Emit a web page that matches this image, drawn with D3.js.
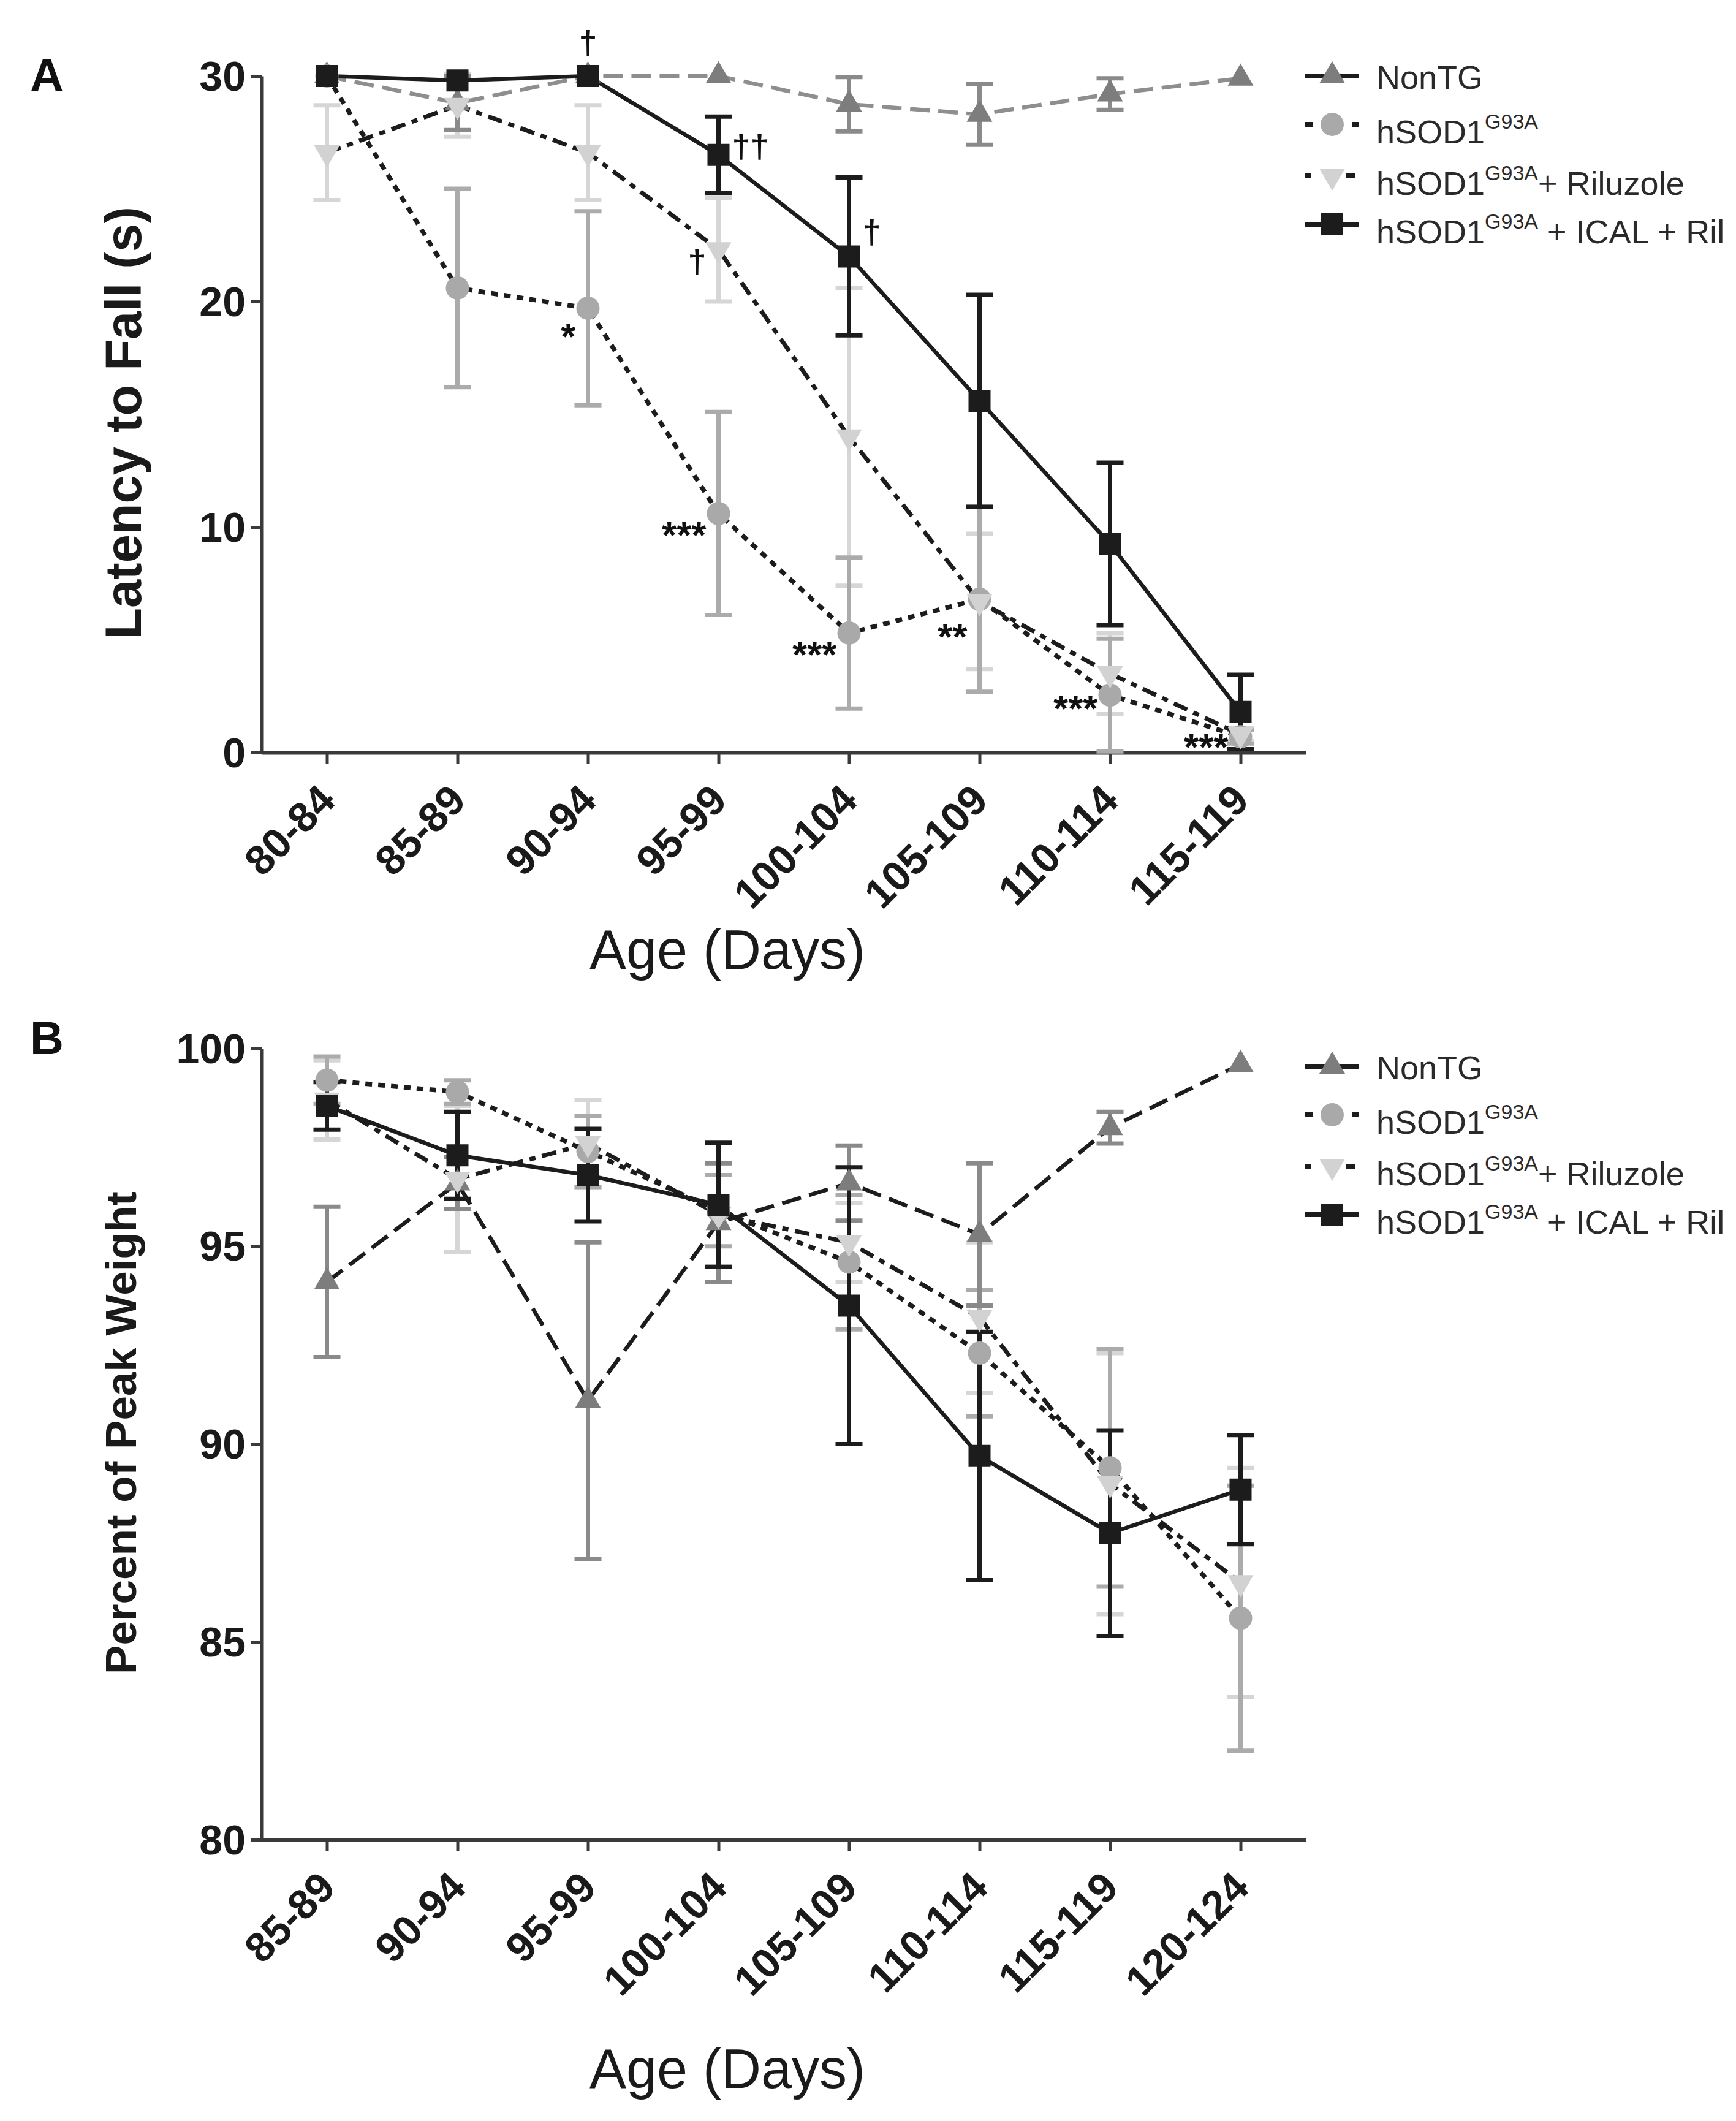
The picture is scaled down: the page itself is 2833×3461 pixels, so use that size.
<!DOCTYPE html>
<html><head><meta charset="utf-8">
<script src="https://cdn.jsdelivr.net/npm/d3@7"></script>
<style>body{margin:0;background:#fff}svg{display:block}</style>
</head><body>
<script>
// ---------- DATA ----------
const catsA = ["80-84","85-89","90-94","95-99","100-104","105-109","110-114","115-119"];
const latencyNonTG    = [30, 28.8, 30, 30, 28.75, 28.3, 29.2, 29.9];
const latencyNonTGSem = [0, 1.2, 0, 0, 1.2, 1.35, 0.7, 0];
const latencySOD      = [30, 20.6, 19.7, 10.6, 5.3, 6.8, 2.55, 0.7];
const latencySODSem   = [0, 4.4, 4.3, 4.5, 3.35, 4.1, 2.5, 0.3];
const latencyRil      = [26.6, 28.7, 26.6, 22.3, 14.0, 6.7, 3.5, 0.8];
const latencyRilSem   = [2.1, 1.4, 2.1, 2.3, 6.6, 3.0, 1.8, 0.3];
const latencyIcal     = [30, 29.8, 30, 26.5, 22.0, 15.6, 9.25, 1.8];
const latencyIcalSem  = [0, 0, 0, 1.7, 3.5, 4.7, 3.6, 1.65];
const ticksA = [0, 10, 20, 30];

const catsB = ["85-89","90-94","95-99","100-104","105-109","110-114","115-119","120-124"];
const weightNonTG    = [94.1, 96.6, 91.1, 95.6, 96.6, 95.3, 98.0, 99.6];
const weightNonTGSem = [1.9, 0.65, 4.0, 1.5, 0.95, 1.8, 0.4, 0];
const weightSOD      = [99.2, 98.9, 97.4, 95.9, 94.6, 92.3, 89.4, 85.6];
const weightSODSem   = [0.6, 0.3, 0.9, 0.9, 1.7, 1.6, 3.0, 3.35];
const weightRil      = [98.7, 96.7, 97.6, 95.8, 95.1, 93.2, 89.0, 86.5];
const weightRilSem   = [1.0, 1.85, 1.1, 1.3, 1.0, 1.9, 3.3, 2.9];
const weightIcal     = [98.55, 97.3, 96.8, 96.05, 93.5, 89.7, 87.75, 88.85];
const weightIcalSem  = [0.6, 1.1, 1.17, 1.57, 3.5, 3.14, 2.6, 1.38];
const ticksB = [80, 85, 90, 95, 100];

const legendLabels = [
  {main: "NonTG"},
  {main: "hSOD1", sup: "G93A"},
  {main: "hSOD1", sup: "G93A", tail: "+ Riluzole"},
  {main: "hSOD1", sup: "G93A", tail: "\u00a0+ ICAL + Ril"}
];

const annotA = [
  {cat: "90-94",   v: 31.5, text: "\u2020",   side: "center"},
  {cat: "95-99",   v: 26.9, text: "\u2020\u2020", side: "right"},
  {cat: "95-99",   v: 21.8, text: "\u2020",   side: "left"},
  {cat: "100-104", v: 23.1, text: "\u2020",   side: "right"},
  {cat: "90-94",   v: 18.8, text: "*",   side: "left"},
  {cat: "95-99",   v: 10.0, text: "***", side: "left"},
  {cat: "100-104", v: 4.7,  text: "***", side: "left"},
  {cat: "105-109", v: 5.5,  text: "**",  side: "left"},
  {cat: "110-114", v: 2.3,  text: "***", side: "left"},
  {cat: "115-119", v: 0.6,  text: "***", side: "left"}
];

// ---------- STYLES ----------
const FONT = "'Liberation Sans', Arial, Helvetica, sans-serif";
const AXIS = "#3a3a3a";
const styles = {
  nontg: {marker: "up",     fill: "#7d7d7d", err: "#8a8a8a", dash: "32,14", w: 6.5},
  sod:   {marker: "circle", fill: "#a9a9a9", err: "#ababab", dash: "11,10",  w: 7.5},
  ril:   {marker: "down",   fill: "#d2d2d2", err: "#d6d6d6", dash: "24,11,10,11", w: 7},
  ical:  {marker: "square", fill: "#1c1c1c", err: "#1c1c1c", dash: null, w: 6.5}
};

const W = 2833, H = 3461;
const svg = d3.select("body").append("svg").attr("width", W).attr("height", H)
  .style("font-family", FONT);

function symbolPath(kind) {
  if (kind === "square") return d3.symbol().type(d3.symbolSquare).size(36 * 36)();
  if (kind === "circle") return d3.symbol().type(d3.symbolCircle).size(Math.PI * 19 * 19)();
  return d3.symbol().type(d3.symbolTriangle).size(Math.sqrt(3) / 4 * 42 * 42)();
}
function drawMarker(g, kind, fill) {
  g.append("path").attr("d", symbolPath(kind)).attr("fill", fill)
    .attr("transform", kind === "down" ? "rotate(180)" : null);
}

function drawPanel(cfg) {
  const g = svg.append("g");
  const x = d3.scalePoint().domain(cfg.cats).range([427, 2131]).padding(0.5);
  const y = d3.scaleLinear().domain(cfg.domain).range([cfg.bottom, cfg.top]);

  // axes
  const ya = g.append("g").attr("transform", "translate(427,0)")
    .call(d3.axisLeft(y).tickValues(cfg.ticks).tickSize(18).tickSizeOuter(0).tickPadding(8));
  const xa = g.append("g").attr("transform", `translate(0,${cfg.bottom})`)
    .call(d3.axisBottom(x).tickSize(18).tickSizeOuter(0));
  [ya, xa].forEach(a => {
    a.select(".domain").attr("stroke", AXIS).attr("stroke-width", 6);
    a.selectAll(".tick line").attr("stroke", AXIS).attr("stroke-width", 5);
    a.selectAll("text").attr("fill", "#1a1a1a").style("font-family", FONT)
      .style("font-weight", "bold").style("font-size", "68px");
  });
  ya.selectAll("text").attr("dy", "0.34em");
  xa.selectAll("text").attr("y", 0).attr("dy", "0.35em")
    .attr("transform", "translate(0,65) rotate(-45)").style("text-anchor", "end");

  // errors
  const order = ["ril", "sod", "nontg", "ical"];
  order.forEach(k => {
    const s = cfg.series[k], st = styles[k];
    s.mean.forEach((m, i) => {
      const e = s.sem[i];
      if (!e) return;
      const cx = x(cfg.cats[i]);
      const y1 = y(m + e), y2 = y(m - e);
      g.append("line").attr("x1", cx).attr("x2", cx).attr("y1", y1).attr("y2", y2)
        .attr("stroke", st.err).attr("stroke-width", 7);
      [y1, y2].forEach(yy => g.append("line").attr("x1", cx - 22).attr("x2", cx + 22)
        .attr("y1", yy).attr("y2", yy).attr("stroke", st.err).attr("stroke-width", 7));
    });
  });

  // lines
  ["nontg", "sod", "ril", "ical"].forEach(k => {
    const s = cfg.series[k], st = styles[k];
    const line = d3.line().x((d, i) => x(cfg.cats[i])).y(d => y(d));
    g.append("path").attr("d", line(s.mean)).attr("fill", "none")
      .attr("stroke", k === "nontg" ? cfg.nontgLine : "#1c1c1c")
      .attr("stroke-width", st.w)
      .attr("stroke-dasharray", st.dash);
  });

  // markers
  ["nontg", "sod", "ril", "ical"].forEach(k => {
    const s = cfg.series[k], st = styles[k];
    s.mean.forEach((m, i) => {
      const mg = g.append("g").attr("transform", `translate(${x(cfg.cats[i])},${y(m)})`);
      drawMarker(mg, st.marker, st.fill);
    });
  });

  // legend
  const offs = [0, 79, 163, 242];
  ["nontg", "sod", "ril", "ical"].forEach((k, i) => {
    const st = styles[k];
    const lg = g.append("g").attr("transform", `translate(2174,${cfg.legendTop + offs[i]})`);
    if (k === "ril") {
      lg.append("line").attr("x1", -44).attr("x2", -34).attr("stroke", "#1c1c1c").attr("stroke-width", 8);
      lg.append("line").attr("x1", 22).attr("x2", 38).attr("stroke", "#1c1c1c").attr("stroke-width", 8);
    } else if (k === "sod") {
      lg.append("line").attr("x1", -44).attr("x2", -32).attr("stroke", "#1c1c1c").attr("stroke-width", 8);
      lg.append("line").attr("x1", 32).attr("x2", 44).attr("stroke", "#1c1c1c").attr("stroke-width", 8);
    } else {
      lg.append("line").attr("x1", -44).attr("x2", 44).attr("stroke", "#1c1c1c").attr("stroke-width", 8);
    }
    drawMarker(lg, st.marker, st.fill);
    const lab = legendLabels[i];
    const t = lg.append("text").attr("x", 72).attr("y", i === 0 ? 21 : 31)
      .attr("fill", "#2a2a2a").style("font-size", "54px");
    t.append("tspan").text(lab.main);
    if (lab.sup) t.append("tspan").attr("dy", -24).style("font-size", "34px").text(lab.sup);
    if (lab.tail) t.append("tspan").attr("dy", 24).style("font-size", "54px").text(lab.tail);
  });

  // titles
  g.append("text").attr("x", 1187).attr("y", cfg.xTitleY).attr("text-anchor", "middle")
    .attr("fill", "#1a1a1a").style("font-size", "90px").text("Age (Days)");
  g.append("text").attr("transform", `translate(${cfg.yTitleX},${cfg.yTitleY}) rotate(-90)`)
    .attr("text-anchor", "middle").attr("fill", "#1a1a1a")
    .style("font-size", cfg.yTitleSize + "px").style("font-weight", "bold").text(cfg.yTitle);
  g.append("text").attr("x", 49).attr("y", cfg.letterY).attr("fill", "#111")
    .style("font-size", "76px").style("font-weight", "bold").text(cfg.letter);

  // annotations
  (cfg.annot || []).forEach(a => {
    const cx = x(a.cat);
    const isStar = a.text.indexOf("*") >= 0;
    g.append("text")
      .attr("x", a.side === "left" ? cx - 20 : a.side === "right" ? cx + 22 : cx)
      .attr("y", y(a.v))
      .attr("dy", isStar ? "0.55em" : "0.35em")
      .attr("text-anchor", a.side === "left" ? "end" : a.side === "right" ? "start" : "middle")
      .attr("fill", "#111").style("font-weight", "bold")
      .style("font-size", isStar ? "62px" : "54px").text(a.text);
  });
}

drawPanel({
  cats: catsA, domain: [0, 30], ticks: ticksA, top: 124, bottom: 1228,
  series: {
    nontg: {mean: latencyNonTG, sem: latencyNonTGSem},
    sod: {mean: latencySOD, sem: latencySODSem},
    ril: {mean: latencyRil, sem: latencyRilSem},
    ical: {mean: latencyIcal, sem: latencyIcalSem}
  },
  nontgLine: "#8e8e8e", legendTop: 124, xTitleY: 1581,
  yTitle: "Latency to Fall (s)", yTitleSize: 83, yTitleX: 230, yTitleY: 690,
  letter: "A", letterY: 149, annot: annotA
});

drawPanel({
  cats: catsB, domain: [80, 100], ticks: ticksB, top: 1711, bottom: 3002,
  series: {
    nontg: {mean: weightNonTG, sem: weightNonTGSem},
    sod: {mean: weightSOD, sem: weightSODSem},
    ril: {mean: weightRil, sem: weightRilSem},
    ical: {mean: weightIcal, sem: weightIcalSem}
  },
  nontgLine: "#1c1c1c", legendTop: 1740, xTitleY: 3407,
  yTitle: "Percent of Peak Weight", yTitleSize: 71, yTitleX: 222, yTitleY: 2338,
  letter: "B", letterY: 1720, annot: []
});
</script>
</body></html>
